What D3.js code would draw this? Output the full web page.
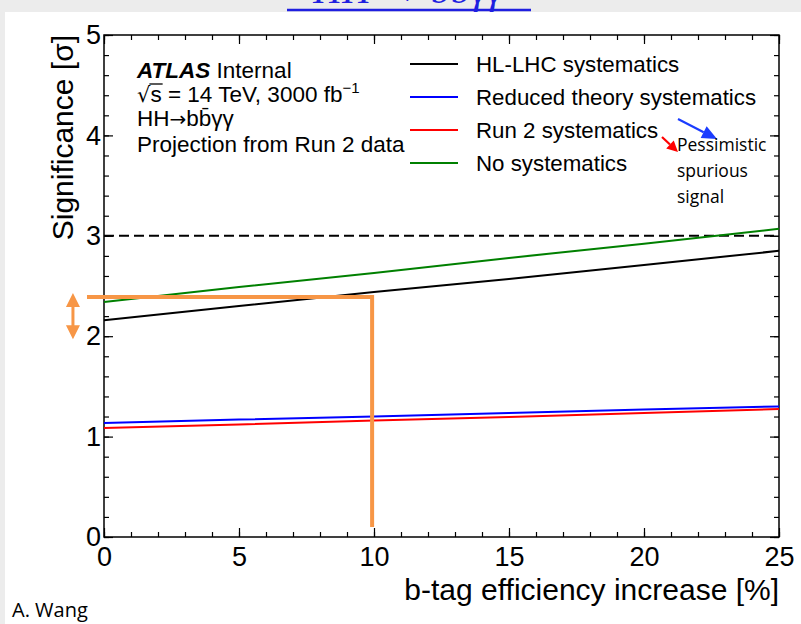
<!DOCTYPE html>
<html><head><meta charset="utf-8">
<script src="https://cdn.jsdelivr.net/npm/d3@7"></script>
<style>
html,body{margin:0;padding:0;background:#ececec;}
svg{display:block;}
</style></head>
<body>
<svg id="c" width="801" height="624"></svg>
<script>
// ---- data ----
const xValues = [0, 5, 10, 15, 20, 25];
const hlLHC   = [2.16, 2.30, 2.44, 2.57, 2.71, 2.85];
const reducedTheory = [1.135, 1.17, 1.20, 1.235, 1.27, 1.30];
const run2    = [1.085, 1.12, 1.16, 1.195, 1.235, 1.275];
const noSyst  = [2.34, 2.49, 2.63, 2.78, 2.92, 3.07];
const seriesNames  = ["HL-LHC systematics", "Reduced theory systematics", "Run 2 systematics", "No systematics"];
const seriesColors = ["#000000", "#0000ff", "#ff0000", "#008000"];
const xMajorTicks = [0, 5, 10, 15, 20, 25];
const yMajorTicks = [0, 1, 2, 3, 4, 5];
const threshold = 3;
const orangeLevel = 2.39;   // horizontal orange guide
const orangeX = 9.93;       // vertical orange guide
const orangeLeft = -0.63;
const orangeBottom = 0.1;
const arrowX = -1.15, arrowTop = 2.43, arrowBottom = 1.97;

const svg = d3.select("#c");
// slide panel
svg.append("rect").attr("x",5).attr("y",12).attr("width",796).attr("height",612).attr("fill","#fff");
// cropped slide title
svg.append("text").attr("x",408).attr("y",3).attr("text-anchor","middle")
  .attr("font-family","Liberation Serif").attr("font-style","italic").attr("font-size",40)
  .attr("fill","#1f1fe0").text("HH → bb̄γγ");
svg.append("line").attr("x1",287).attr("x2",531).attr("y1",10).attr("y2",10)
  .attr("stroke","#1f1fe0").attr("stroke-width",2.5);

const L=104, R=779, T=35, B=537;
const x = d3.scaleLinear().domain([0,25]).range([L,R]);
const y = d3.scaleLinear().domain([0,5]).range([B,T]);
const font = "Liberation Sans, Arial, sans-serif";

// frame
svg.append("rect").attr("x",L).attr("y",T).attr("width",R-L).attr("height",B-T)
  .attr("fill","none").attr("stroke","#000").attr("stroke-width",1.5);

function styleAxis(g){ g.select(".domain").remove(); g.selectAll("line").attr("stroke","#000").attr("stroke-width",1.2);
  g.selectAll("text").attr("font-family",font).attr("font-size",27).attr("fill","#000"); }

svg.append("g").attr("transform",`translate(0,${B})`)
  .call(d3.axisBottom(x).tickValues(xMajorTicks).tickSize(-9).tickPadding(10).tickFormat(d3.format("d"))).call(styleAxis);
svg.append("g").attr("transform",`translate(0,${B})`)
  .call(d3.axisBottom(x).tickValues(d3.range(0,26,1)).tickSize(-5).tickFormat("")).call(styleAxis);
svg.append("g").attr("transform",`translate(0,${T})`)
  .call(d3.axisTop(x).tickValues(xMajorTicks).tickSize(-9).tickFormat("")).call(styleAxis);
svg.append("g").attr("transform",`translate(0,${T})`)
  .call(d3.axisTop(x).tickValues(d3.range(0,26,1)).tickSize(-5).tickFormat("")).call(styleAxis);
svg.append("g").attr("transform",`translate(${L},0)`)
  .call(d3.axisLeft(y).tickValues(yMajorTicks).tickSize(-9).tickPadding(3).tickFormat(d3.format("d"))).call(styleAxis);
svg.append("g").attr("transform",`translate(${L},0)`)
  .call(d3.axisLeft(y).tickValues(d3.range(0,26).map(d=>d*0.2)).tickSize(-5).tickFormat("")).call(styleAxis);
svg.append("g").attr("transform",`translate(${R},0)`)
  .call(d3.axisRight(y).tickValues(yMajorTicks).tickSize(-9).tickFormat("")).call(styleAxis);
svg.append("g").attr("transform",`translate(${R},0)`)
  .call(d3.axisRight(y).tickValues(d3.range(0,26).map(d=>d*0.2)).tickSize(-5).tickFormat("")).call(styleAxis);

// axis titles
svg.append("text").attr("x",R).attr("y",600).attr("text-anchor","end")
  .attr("font-family",font).attr("font-size",30).text("b-tag efficiency increase [%]");
svg.append("text").attr("transform",`translate(73,${T}) rotate(-90)`).attr("text-anchor","end")
  .attr("font-family",font).attr("font-size",30).text("Significance [σ]");

// dashed threshold
svg.append("line").attr("x1",x(0)).attr("x2",x(25)).attr("y1",y(threshold)).attr("y2",y(threshold))
  .attr("stroke","#000").attr("stroke-width",2).attr("stroke-dasharray","10,5");

// series
const allSeries = [hlLHC, reducedTheory, run2, noSyst];
const line = d3.line().x((d,i)=>x(xValues[i])).y(d=>y(d));
allSeries.forEach((s,k)=>{
  svg.append("path").attr("d",line(s)).attr("fill","none").attr("stroke",seriesColors[k]).attr("stroke-width",2);
});

// orange guides
const orange = "#f79646";
svg.append("path").attr("d",`M${x(orangeLeft)},${y(orangeLevel)}H${x(orangeX)}V${y(orangeBottom)}`)
  .attr("fill","none").attr("stroke",orange).attr("stroke-width",4);
const ax = x(arrowX), aT = y(arrowTop), aB = y(arrowBottom);
svg.append("line").attr("x1",ax).attr("x2",ax).attr("y1",aT+10).attr("y2",aB-10).attr("stroke",orange).attr("stroke-width",3);
svg.append("path").attr("d",`M${ax},${aT}L${ax-7},${aT+14}L${ax+7},${aT+14}Z M${ax},${aB}L${ax-7},${aB-14}L${ax+7},${aB-14}Z`).attr("fill",orange);

// ATLAS label
const tl = svg.append("g").attr("font-family",font).attr("font-size",22.5);
const t1 = tl.append("text").attr("x",137).attr("y",78);
t1.append("tspan").attr("font-weight","bold").attr("font-style","italic").text("ATLAS");
t1.append("tspan").text(" Internal");
const t2 = tl.append("text").attr("x",137).attr("y",102);
t2.append("tspan").attr("font-family","DejaVu Sans").attr("font-size",21).text("√");
t2.append("tspan").text("s = 14 TeV, 3000 fb");
t2.append("tspan").attr("dy",-9).attr("font-size",15).text("−1");
// overline of the radical
{
  const n = t2.node();
  const sEnd = n.getEndPositionOfChar(1);
  const rEnd = n.getEndPositionOfChar(0);
  svg.append("line").attr("x1",rEnd.x-1).attr("x2",sEnd.x+1).attr("y1",102-18).attr("y2",102-18)
    .attr("stroke","#000").attr("stroke-width",1.3);
}
const t3 = tl.append("text").attr("x",137).attr("y",126);
t3.append("tspan").text("HH");
t3.append("tspan").attr("font-family","DejaVu Sans").attr("font-size",20).text("→");
t3.append("tspan").text("bb̄γγ");
tl.append("text").attr("x",137).attr("y",152).text("Projection from Run 2 data");

// legend
const legY = [64, 97, 130, 163];
seriesNames.forEach((n,k)=>{
  svg.append("line").attr("x1",410).attr("x2",458).attr("y1",legY[k]).attr("y2",legY[k])
    .attr("stroke",seriesColors[k]).attr("stroke-width",2);
  svg.append("text").attr("x",476).attr("y",legY[k]).attr("dy","0.36em")
    .attr("font-family",font).attr("font-size",22.3).text(n);
});

// pessimistic annotation
function arrow(x1,y1,x2,y2,col,hl,hw,sw){
  const a=Math.atan2(y2-y1,x2-x1), bx=x2-hl*Math.cos(a), by=y2-hl*Math.sin(a);
  svg.append("line").attr("x1",x1).attr("y1",y1).attr("x2",bx).attr("y2",by).attr("stroke",col).attr("stroke-width",sw);
  const px=-Math.sin(a)*hw/2, py=Math.cos(a)*hw/2;
  svg.append("path").attr("d",`M${x2},${y2}L${bx+px},${by+py}L${bx-px},${by-py}Z`).attr("fill",col);
}
arrow(678,119,717,139,"#1a3cff",15,13,2.2);
arrow(662,137,678,152,"#ff0000",11,11,2.2);
const pf = "Open Sans, sans-serif";
["Pessimistic","spurious","signal"].forEach((t,i)=>{
  svg.append("text").attr("x",677).attr("y",151+i*26).attr("font-family",pf).attr("font-size",17.5).text(t);
});

// footer
svg.append("text").attr("x",12).attr("y",617).attr("font-family",pf).attr("font-size",20).text("A. Wang");
</script>
</body></html>
